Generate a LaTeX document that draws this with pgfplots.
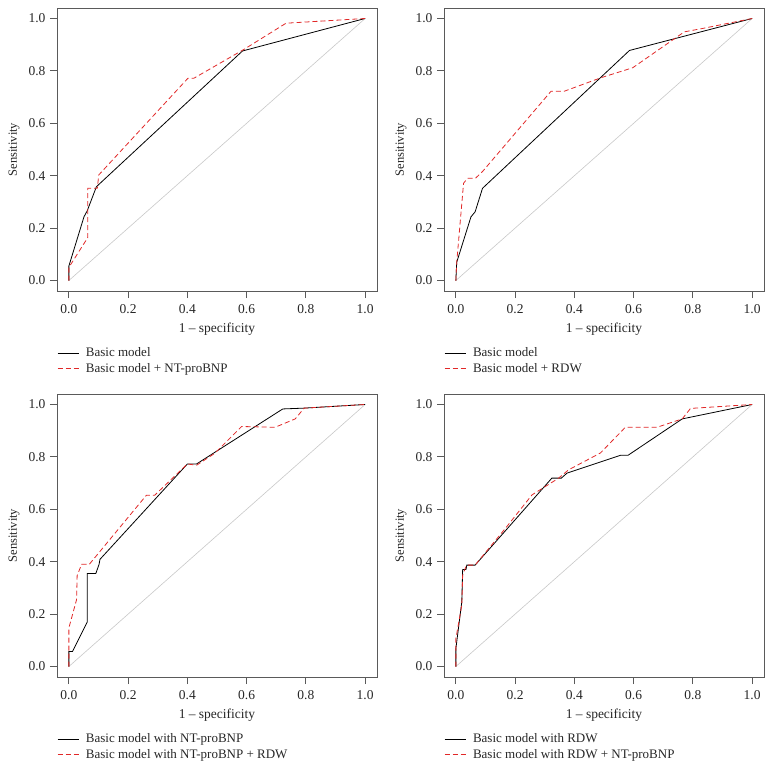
\documentclass[border=0pt]{standalone}
\usepackage{pgfplots}
\pgfplotsset{compat=1.18}
\usepackage{fontspec}
\setmainfont{Liberation Serif}
\definecolor{rocred}{RGB}{225,40,40}
\definecolor{boxgray}{RGB}{90,90,90}
\definecolor{diaggray}{RGB}{200,200,200}
\pgfplotsset{
  rocstyle/.style={
    scale only axis, width=320pt, height=283pt,
    xmin=-0.04, xmax=1.04, ymin=-0.04, ymax=1.04,
    xtick={0,0.2,...,1.0}, ytick={0,0.2,...,1.0},
    /pgf/number format/fixed,/pgf/number format/fixed zerofill,/pgf/number format/precision=1,
    /pgf/number format/assume math mode=true,
    tick align=outside, xtick pos=bottom, ytick pos=left,
    major tick length=7pt,
    axis line style={boxgray, line width=0.8pt},
    every tick/.style={boxgray, line width=0.8pt},
    tick label style={font=\fontsize{13.5}{15}\selectfont, text=black!85},
    xticklabel style={yshift=-3pt},
    yticklabel style={xshift=-1pt},
    xlabel={1 -- specificity}, ylabel={Sensitivity},
    every axis x label/.style={at={(axis description cs:0.5,0)}, anchor=center, yshift=-38.5pt,
      font=\fontsize{13.5}{15}\selectfont, text=black!85},
    every axis y label/.style={at={(axis description cs:-0.134,0.5)}, rotate=90, anchor=center,
      font=\fontsize{12.5}{14}\selectfont, text=black!85},
    legend style={at={(axis description cs:0,-0.193)}, anchor=north west, draw=none, fill=none,
      font=\fontsize{13}{15}\selectfont, text=black!85, row sep=1.2pt, inner sep=0pt,
      /tikz/every odd column/.append style={column sep=5pt}},
    legend cell align=left,
    legend image code/.code={\draw[#1] (0pt,0pt) -- (21pt,0pt);},
  },
  blk/.style={black, line width=0.8pt},
  rd/.style={rocred, line width=0.8pt, dash pattern=on 5pt off 3pt},
  dg/.style={diaggray, line width=0.6pt, forget plot},
}
\begin{document}
\begin{tikzpicture}
\useasboundingbox (0,0) rectangle (772pt,-768pt);
% Panel 1
\begin{axis}[rocstyle, at={(57pt,-291pt)}, anchor=south west]
\addplot[dg] coordinates {(0,0)(1,1)};
\addplot[blk] coordinates {(0,0)(0,0.055)(0.051,0.243)(0.062,0.266)(0.093,0.358)(0.586,0.876)(1,1)};
\addplot[rd] coordinates {(0,0)(0,0.05)(0.064,0.164)(0.064,0.352)(0.096,0.352)(0.101,0.403)(0.402,0.772)(0.422,0.772)(0.591,0.882)(0.733,0.982)(1,1)};
\legend{Basic model, Basic model + NT-proBNP}
\end{axis}
% Panel 2
\begin{axis}[rocstyle, at={(444pt,-291pt)}, anchor=south west]
\addplot[dg] coordinates {(0,0)(1,1)};
\addplot[blk] coordinates {(0,0)(0.003,0.07)(0.051,0.243)(0.065,0.262)(0.09,0.352)(0.586,0.878)(1,1)};
\addplot[rd] coordinates {(0,0)(0.003,0.07)(0.026,0.371)(0.039,0.39)(0.066,0.39)(0.09,0.416)(0.321,0.722)(0.365,0.722)(0.49,0.774)(0.597,0.812)(0.771,0.949)(0.833,0.962)(1,1)};
\legend{Basic model, Basic model + RDW}
\end{axis}
% Panel 3
\begin{axis}[rocstyle, at={(57pt,-677pt)}, anchor=south west]
\addplot[dg] coordinates {(0,0)(1,1)};
\addplot[blk] coordinates {(0,0)(0,0.057)(0.012,0.057)(0.062,0.17)(0.062,0.355)(0.091,0.355)(0.102,0.39)(0.105,0.409)(0.4,0.773)(0.431,0.773)(0.722,0.983)(0.792,0.986)(1,1)};
\addplot[rd] coordinates {(0,0)(0,0.147)(0.026,0.255)(0.028,0.347)(0.043,0.39)(0.069,0.39)(0.262,0.654)(0.29,0.654)(0.4,0.773)(0.431,0.768)(0.493,0.814)(0.583,0.916)(0.696,0.913)(0.764,0.945)(0.794,0.986)(1,1)};
\legend{Basic model with NT-proBNP, Basic model with NT-proBNP + RDW}
\end{axis}
% Panel 4
\begin{axis}[rocstyle, at={(444pt,-677pt)}, anchor=south west]
\addplot[dg] coordinates {(0,0)(1,1)};
\addplot[blk] coordinates {(0,0)(0,0.068)(0.02,0.246)(0.023,0.37)(0.034,0.37)(0.037,0.387)(0.065,0.387)(0.324,0.719)(0.356,0.719)(0.375,0.738)(0.555,0.806)(0.581,0.806)(0.764,0.945)(1,1)};
\addplot[rd] coordinates {(0,0)(0,0.106)(0.02,0.234)(0.023,0.349)(0.034,0.381)(0.037,0.387)(0.065,0.387)(0.167,0.527)(0.257,0.655)(0.347,0.719)(0.381,0.751)(0.488,0.815)(0.572,0.913)(0.679,0.913)(0.764,0.945)(0.792,0.985)(1,1)};
\legend{Basic model with RDW, Basic model with RDW + NT-proBNP}
\end{axis}
\end{tikzpicture}
\end{document}
